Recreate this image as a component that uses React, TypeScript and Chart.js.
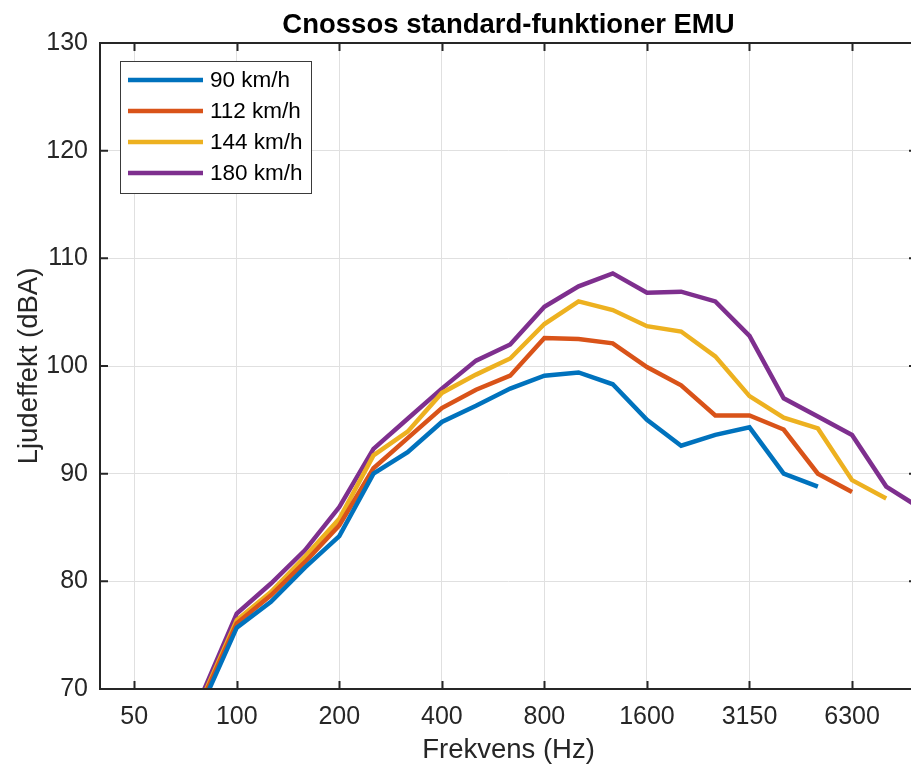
import React, { useEffect, useRef } from 'react';
import { Chart, registerables } from 'chart.js';

Chart.register(...registerables);

// Third-octave bands (50 Hz is position 0 on the x axis, 63 Hz is position 1)
const bands = ['63', '80', '100', '125', '160', '200', '250', '315', '400', '500', '630', '800', '1000', '1250', '1600', '2000', '2500', '3150', '4000', '5000', '6300', '8000', '10000'];
const firstBandPos = 1;
const tickPositions = [0, 3, 6, 9, 12, 15, 18, 21];
const tickLabels = ['50', '100', '200', '400', '800', '1600', '3150', '6300'];
const yTicks = [70, 80, 90, 100, 110, 120, 130];

const seriesNames = ['90 km/h', '112 km/h', '144 km/h', '180 km/h'];
const seriesColors = ['#0072BD', '#D95319', '#EDB120', '#7E2F8E'];

const speed90 = [null, 68.6, 75.7, 78.1, 81.3, 84.2, 90.0, 92.0, 94.8, 96.3, 97.9, 99.1, 99.4, 98.3, 95.0, 92.6, 93.6, 94.3, 90.0, 88.8, null, null, null];
const speed112 = [null, 69.0, 76.1, 78.7, 81.8, 85.2, 90.5, 93.3, 96.1, 97.8, 99.1, 102.6, 102.5, 102.1, 99.9, 98.2, 95.4, 95.4, 94.1, 90.0, 88.3, null, null];
const speed144 = [null, 69.2, 76.4, 79.0, 82.3, 85.8, 91.7, 93.9, 97.5, 99.2, 100.7, 103.9, 106.0, 105.2, 103.7, 103.2, 100.9, 97.2, 95.2, 94.2, 89.4, 87.7, null];
const speed180 = [null, 69.6, 77.0, 79.8, 82.9, 86.9, 92.3, 95.1, 97.9, 100.5, 102.0, 105.5, 107.4, 108.6, 106.8, 106.9, 106.0, 102.8, 97.0, 95.3, 93.6, 88.8, 86.8];

const allSeries = [speed90, speed112, speed144, speed180];

const titleText = 'Cnossos standard-funktioner EMU';
const xTitle = 'Frekvens (Hz)';
const yTitle = 'Ljudeffekt (dBA)';

const FONT = "'Liberation Sans', Arial, Helvetica, sans-serif";
const AXIS_COLOR = '#262626';
const GRID_COLOR = '#e0e0e0';

const framePlugin = {
  id: 'matlabFrame',
  afterDraw(chart: any) {
    const { ctx, chartArea } = chart;
    const { left, right, top, bottom } = chartArea;
    ctx.save();

    // axes box
    ctx.strokeStyle = AXIS_COLOR;
    ctx.lineWidth = 2;
    ctx.beginPath();
    ctx.rect(left, top, right - left, bottom - top);
    ctx.stroke();

    // inward ticks
    const tl = 8;
    ctx.lineWidth = 2;
    ctx.beginPath();
    const xs = chart.scales.x;
    for (const t of xs.ticks) {
      const px = Math.round(xs.getPixelForValue(t.value)) + 0.5;
      ctx.moveTo(px, bottom);
      ctx.lineTo(px, bottom - tl);
      ctx.moveTo(px, top);
      ctx.lineTo(px, top + tl);
    }
    const ys = chart.scales.y;
    for (const t of ys.ticks) {
      const py = ys.getPixelForValue(t.value);
      ctx.moveTo(left, py);
      ctx.lineTo(left + tl, py);
      ctx.moveTo(right, py);
      ctx.lineTo(right - tl, py);
    }
    ctx.stroke();

    // title
    ctx.fillStyle = '#000';
    ctx.font = `bold 27.5px ${FONT}`;
    ctx.textAlign = 'center';
    ctx.textBaseline = 'alphabetic';
    ctx.fillText(titleText, (left + right) / 2, 33);

    // legend
    const bx = left + 20;
    const by = top + 18;
    const bw = 191;
    const bh = 132;
    ctx.fillStyle = '#fff';
    ctx.fillRect(bx, by, bw, bh);
    ctx.strokeStyle = '#3a3a3a';
    ctx.lineWidth = 1;
    ctx.strokeRect(Math.round(bx) + 0.5, Math.round(by) + 0.5, bw, bh);
    ctx.font = `22.5px ${FONT}`;
    ctx.textAlign = 'left';
    ctx.textBaseline = 'middle';
    chart.data.datasets.forEach((ds: any, i: number) => {
      const y = by + 19 + i * 31;
      ctx.strokeStyle = ds.borderColor;
      ctx.lineWidth = 4.5;
      ctx.beginPath();
      ctx.moveTo(bx + 8, y);
      ctx.lineTo(bx + 83, y);
      ctx.stroke();
      ctx.fillStyle = '#000';
      ctx.fillText(ds.label, bx + 90, y + 1);
    });

    ctx.restore();
  },
};

export default function App() {
  const canvasRef = useRef<HTMLCanvasElement | null>(null);

  useEffect(() => {
    const canvas = canvasRef.current;
    if (!canvas) return;

    const datasets = allSeries.map((vals, si) => ({
      label: seriesNames[si],
      data: bands
        .map((_, i) => ({ x: i + firstBandPos, y: vals[i] }))
        .filter((p) => p.y !== null),
      borderColor: seriesColors[si],
      backgroundColor: seriesColors[si],
      borderWidth: 4.5,
      pointRadius: 0,
      pointHoverRadius: 0,
      tension: 0,
      fill: false,
      clip: 0,
    }));

    const chart = new Chart(canvas, {
      type: 'line',
      data: { datasets },
      options: {
        animation: false,
        responsive: false,
        maintainAspectRatio: false,
        layout: { padding: { top: 43, right: 3, left: 0, bottom: 0 } },
        plugins: {
          legend: { display: false },
          title: { display: false },
          tooltip: { enabled: false },
        },
        scales: {
          x: {
            type: 'linear',
            min: -1,
            max: 22.9,
            afterBuildTicks: (scale: any) => {
              scale.ticks = tickPositions.map((v) => ({ value: v }));
            },
            afterFit: (scale: any) => {
              scale.height = 78;
            },
            ticks: {
              autoSkip: false,
              maxRotation: 0,
              padding: 13,
              color: AXIS_COLOR,
              font: { family: FONT, size: 25 },
              callback: (value: any) => {
                const idx = tickPositions.indexOf(Number(value));
                return idx >= 0 ? tickLabels[idx] : '';
              },
            },
            grid: { color: GRID_COLOR, lineWidth: 1, drawTicks: false },
            border: { display: false },
            title: {
              display: true,
              text: xTitle,
              color: AXIS_COLOR,
              font: { family: FONT, size: 27.5 },
              padding: { top: 0, bottom: 0.5 },
            },
          },
          y: {
            type: 'linear',
            min: 70,
            max: 130,
            afterBuildTicks: (scale: any) => {
              scale.ticks = yTicks.map((v) => ({ value: v }));
            },
            afterFit: (scale: any) => {
              scale.width = 100;
            },
            ticks: {
              padding: 12,
              color: AXIS_COLOR,
              font: { family: FONT, size: 25 },
            },
            grid: { color: GRID_COLOR, lineWidth: 1, drawTicks: false },
            border: { display: false },
            title: {
              display: true,
              text: yTitle,
              color: AXIS_COLOR,
              font: { family: FONT, size: 27.5 },
              padding: { top: 12.5, bottom: 0 },
            },
          },
        },
      },
      plugins: [framePlugin],
    } as any);

    return () => chart.destroy();
  }, []);

  return (
    <div
      style={{
        position: 'absolute',
        left: 0,
        top: 0,
        width: 911,
        height: 767,
        overflow: 'hidden',
        background: '#fff',
      }}
    >
      <canvas ref={canvasRef} width={920} height={767} style={{ display: 'block' }} />
    </div>
  );
}
